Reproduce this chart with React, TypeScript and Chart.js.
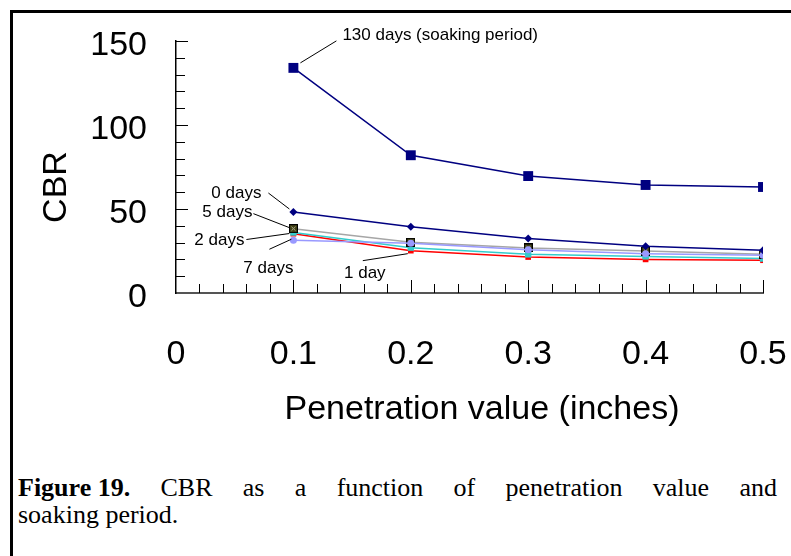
import React, { useEffect, useRef } from "react";
import { Chart, registerables } from "chart.js";

Chart.register(...registerables);

// ---- data ----
const penetration = [0.1, 0.2, 0.3, 0.4, 0.5];
const cbr130Days = [134, 82, 69.6, 64.3, 63.1];
const cbr0Days = [48.2, 39.5, 32.4, 27.8, 25.4];
const cbr7Days = [31.4, 29.6, 25.8, 23.4, 22.4];
const cbr5Days = [38.3, 30.2, 26.8, 25, 23];
const cbr2Days = [36, 27, 23, 21.8, 20.5];
const cbr1Day = [35.3, 25.2, 21.4, 20, 19.5];

const seriesNames = ["130 days (soaking period)", "0 days", "7 days", "5 days", "2 days", "1 day"];
const xTicks = [0, 0.1, 0.2, 0.3, 0.4, 0.5];
const yTicks = [0, 50, 100, 150];
const xTitle = "Penetration value (inches)";
const yTitle = "CBR";

const SANS = "'Liberation Sans', Arial, sans-serif";

// leader-line annotations: offsets (px) relative to the annotated point
const annotations = [
  { ds: 0, idx: 0, text: seriesNames[0], from: [7, -5], to: [43, -27], at: [49, -33], align: "left" },
  { ds: 1, idx: 0, text: seriesNames[1], from: [-25, -19], to: [-4, -3], at: [-32, -19], align: "right" },
  { ds: 3, idx: 0, text: seriesNames[3], from: [-40, -15], to: [-4, -1], at: [-41, -16], align: "right" },
  { ds: 4, idx: 0, text: seriesNames[4], from: [-47, 7], to: [-4, 1], at: [-49, 8], align: "right" },
  { ds: 2, idx: 0, text: seriesNames[2], from: [-24, 9], to: [-2, -1], at: [-25, 28], align: "center" },
  { ds: 5, idx: 1, text: seriesNames[5], from: [-48, 10], to: [-3, 3], at: [-46, 23], align: "center" },
];

function makeCrossSquare() {
  const c = document.createElement("canvas");
  c.width = 9;
  c.height = 9;
  const g = c.getContext("2d")!;
  g.fillStyle = "#000";
  g.fillRect(0, 0, 9, 9);
  g.fillStyle = "#3f3f14";
  g.fillRect(1, 1, 7, 7);
  g.strokeStyle = "#b0b090";
  g.lineWidth = 1;
  g.beginPath();
  g.moveTo(2.5, 2.5);
  g.lineTo(6.5, 6.5);
  g.moveTo(6.5, 2.5);
  g.lineTo(2.5, 6.5);
  g.stroke();
  return c;
}

const insideTicks = {
  id: "insideTicks",
  beforeDatasetsDraw(chart: any) {
    const { ctx, chartArea } = chart;
    const x = chart.scales.x;
    const y = chart.scales.y;
    ctx.save();
    ctx.strokeStyle = "#000";
    ctx.lineWidth = 1;
    for (let i = 1; i <= 25; i++) {
      const px = Math.round(x.getPixelForValue(i * 0.02)) + 0.5;
      const len = i % 5 === 0 ? 13 : 9;
      ctx.beginPath();
      ctx.moveTo(px, chartArea.bottom);
      ctx.lineTo(px, chartArea.bottom - len);
      ctx.stroke();
    }
    for (let i = 1; i <= 15; i++) {
      const py = Math.round(y.getPixelForValue(i * 10)) + 0.5;
      const len = i % 5 === 0 ? 12 : 9;
      ctx.beginPath();
      ctx.moveTo(chartArea.left, py);
      ctx.lineTo(chartArea.left + len, py);
      ctx.stroke();
    }
    ctx.restore();
  },
  afterDraw(chart: any) {
    const { ctx, chartArea } = chart;
    ctx.save();
    // axis titles
    ctx.fillStyle = "#000";
    ctx.font = `34px ${SANS}`;
    ctx.textAlign = "center";
    ctx.textBaseline = "middle";
    ctx.fillText(xTitle, chartArea.left + 306, chartArea.bottom + 117);
    ctx.save();
    ctx.translate(chartArea.left - 119, chartArea.top + 146);
    ctx.rotate(-Math.PI / 2);
    ctx.fillText(yTitle, 0, 0);
    ctx.restore();
    // annotations
    ctx.font = `17px ${SANS}`;
    ctx.strokeStyle = "#000";
    ctx.lineWidth = 1;
    for (const a of annotations) {
      const el = chart.getDatasetMeta(a.ds).data[a.idx];
      if (!el) continue;
      const px = el.x;
      const py = el.y;
      ctx.beginPath();
      ctx.moveTo(px + a.from[0], py + a.from[1]);
      ctx.lineTo(px + a.to[0], py + a.to[1]);
      ctx.stroke();
      ctx.textAlign = a.align as CanvasTextAlign;
      ctx.fillText(a.text, px + a.at[0], py + a.at[1]);
    }
    ctx.restore();
  },
};

export default function App() {
  const ref = useRef<HTMLCanvasElement | null>(null);

  useEffect(() => {
    if (!ref.current) return;
    const pts = (arr: number[]) => penetration.map((x, i) => ({ x, y: arr[i] }));
    const cross = makeCrossSquare();
    const chart = new Chart(ref.current, {
      type: "line",
      data: {
        datasets: [
          {
            label: seriesNames[0],
            data: pts(cbr130Days),
            borderColor: "#000080",
            backgroundColor: "#000080",
            borderWidth: 1.5,
            pointStyle: "rect",
            pointRadius: 7,
            pointBorderWidth: 0,
          },
          {
            label: seriesNames[1],
            data: pts(cbr0Days),
            borderColor: "#000080",
            backgroundColor: "#000080",
            borderWidth: 1.5,
            pointStyle: "rectRot",
            pointRadius: 4,
            pointBorderWidth: 0,
          },
          {
            label: seriesNames[2],
            data: pts(cbr7Days),
            borderColor: "#9999ff",
            backgroundColor: "#9999ff",
            borderWidth: 1.5,
            pointStyle: "circle",
            pointRadius: 3.5,
            pointBorderWidth: 0,
          },
          {
            label: seriesNames[3],
            data: pts(cbr5Days),
            borderColor: "#a6a6a6",
            backgroundColor: "#3f3f14",
            borderWidth: 1.5,
            pointStyle: cross as any,
            pointRadius: 4.5,
          },
          {
            label: seriesNames[4],
            data: pts(cbr2Days),
            borderColor: "#33cccc",
            backgroundColor: "#33cccc",
            borderWidth: 1.5,
            pointStyle: "rect",
            pointRadius: 4.5,
            pointBorderWidth: 0,
          },
          {
            label: seriesNames[5],
            data: pts(cbr1Day),
            borderColor: "#ff0000",
            backgroundColor: "#ff0000",
            borderWidth: 1.5,
            pointStyle: "rect",
            pointRadius: 4,
            pointBorderWidth: 0,
          },
        ],
      },
      options: {
        animation: false,
        responsive: false,
        events: [],
        layout: { padding: { left: 0, top: 41, right: 28, bottom: 0 } },
        plugins: { legend: { display: false }, tooltip: { enabled: false } },
        scales: {
          x: {
            type: "linear",
            min: 0,
            max: 0.5,
            afterBuildTicks: (s: any) => {
              s.ticks = xTicks.map((v) => ({ value: v }));
            },
            afterFit: (s: any) => {
              s.height = 147;
              s.paddingLeft = 0;
              s.paddingRight = 0;
              s.paddingTop = 0;
              s.paddingBottom = 0;
            },
            grid: { display: false, drawTicks: false },
            border: { display: true, color: "#555", width: 2 },
            ticks: {
              color: "#000",
              padding: 41,
              maxRotation: 0,
              autoSkip: false,
              font: { family: SANS, size: 34, lineHeight: 1.2 },
              callback: (v: any) => String(v),
            },
          },
          y: {
            type: "linear",
            min: 0,
            max: 150,
            afterBuildTicks: (s: any) => {
              s.ticks = yTicks.map((v) => ({ value: v }));
            },
            afterFit: (s: any) => {
              s.width = 176;
              s.paddingLeft = 0;
              s.paddingRight = 0;
              s.paddingTop = 0;
              s.paddingBottom = 0;
            },
            grid: { display: false, drawTicks: false },
            border: { display: true, color: "#000", width: 1.5 },
            ticks: {
              color: "#000",
              padding: 29,
              labelOffset: 4.5,
              font: { family: SANS, size: 34, lineHeight: 1.2 },
              callback: (v: any) => String(v),
            },
          },
        },
      },
      plugins: [insideTicks],
    } as any);
    return () => chart.destroy();
  }, []);

  const serif = "'Liberation Serif', 'Times New Roman', serif";
  return (
    <div style={{ position: "fixed", left: 0, top: 0, width: 791, height: 556, overflow: "hidden", background: "#fff" }}>
      <div
        style={{
          position: "absolute",
          left: 10,
          top: 10,
          width: 1000,
          height: 1000,
          borderLeft: "3px solid #000",
          borderTop: "3px solid #000",
        }}
      />
      <canvas ref={ref} width={791} height={440} style={{ position: "absolute", left: 0, top: 0, width: 791, height: 440 }} />
      <div
        style={{
          position: "absolute",
          left: 18,
          top: 474,
          width: 759,
          fontFamily: serif,
          fontSize: 26,
          lineHeight: "27px",
          color: "#000",
        }}
      >
        <div style={{ display: "flex", justifyContent: "space-between", whiteSpace: "nowrap" }}>
          <b>Figure 19.</b>
          {"CBR as a function of penetration value and".split(" ").map((w, i) => (
            <span key={i}>{w}</span>
          ))}
        </div>
        <div>soaking period.</div>
      </div>
    </div>
  );
}
